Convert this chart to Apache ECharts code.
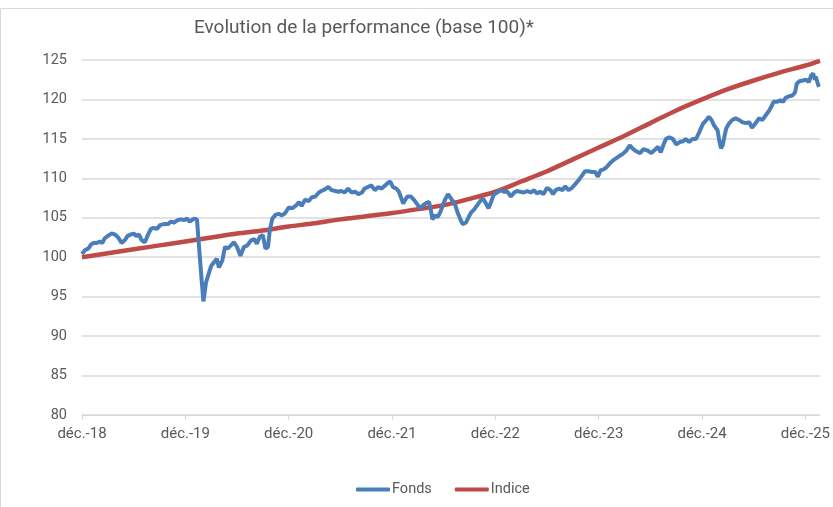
<!DOCTYPE html>
<html>
<head>
<meta charset="utf-8">
<script src="https://cdn.jsdelivr.net/npm/echarts@6/dist/echarts.min.js"></script>
<style>
html, body {margin: 0; padding: 0; background: #fff;}
#chart {width: 833px; height: 507px;}
</style>
</head>
<body>
<div id="chart"></div>
<script>
// months since déc.-18, value (base 100)
var fonds = [
  [0,100.4],[0.35,100.9],[0.73,101.1],[1.04,101.6],[1.3,101.8],[1.7,101.8],[2.08,102.0],[2.35,101.8],
  [2.65,102.4],[3.0,102.7],[3.42,103.0],[3.8,102.9],[4.2,102.5],[4.6,101.8],[5.0,102.2],[5.3,102.7],
  [5.7,102.9],[6.0,103.0],[6.3,102.7],[6.6,102.9],[6.9,102.2],[7.3,101.9],[7.6,102.7],[8.0,103.6],
  [8.3,103.7],[8.7,103.6],[9.1,104.1],[9.6,104.2],[10.0,104.2],[10.3,104.5],[10.7,104.4],[11.1,104.7],
  [11.5,104.8],[11.9,104.7],[12.2,104.9],[12.5,104.5],[12.7,104.7],[13.0,104.9],[13.35,104.8],[13.6,101.2],
  [13.9,97.0],[14.1,94.4],[14.4,96.8],[14.6,96.6],[15.0,98.9],[15.35,99.4],[15.65,99.8],[15.9,98.7],
  [16.3,99.6],[16.6,101.3],[16.9,101.1],[17.3,101.5],[17.65,101.9],[18.0,101.3],[18.4,100.2],[18.8,101.3],
  [19.2,101.5],[19.6,102.1],[20.0,102.3],[20.3,101.7],[20.65,102.6],[21.0,102.8],[21.3,101.1],[21.6,101.3],
  [21.8,103.4],[22.1,104.9],[22.5,105.4],[22.85,105.5],[23.2,105.3],[23.6,105.6],[24.0,106.3],[24.4,106.2],
  [24.8,106.5],[25.2,107.0],[25.5,106.5],[25.9,107.3],[26.3,107.1],[26.7,107.6],[27.1,107.7],[27.5,108.2],
  [27.8,108.4],[28.2,108.6],[28.6,108.9],[29.0,108.5],[29.4,108.4],[29.8,108.3],[30.1,108.4],[30.5,108.2],
  [30.9,108.7],[31.3,108.2],[31.7,108.3],[32.1,108.0],[32.5,108.2],[32.8,108.7],[33.2,108.9],[33.6,109.1],
  [34.0,108.5],[34.4,108.9],[34.8,108.7],[35.2,109.1],[35.5,109.4],[35.8,109.6],[36.1,108.9],[36.5,108.7],
  [36.8,108.3],[37.1,107.4],[37.3,106.8],[37.6,107.4],[37.8,107.7],[38.2,107.7],[38.6,107.2],[39.0,106.6],
  [39.3,106.2],[39.6,106.6],[40.0,106.9],[40.3,107.0],[40.5,106.0],[40.7,104.8],[41.0,105.3],[41.3,105.1],
  [41.6,105.7],[41.9,106.6],[42.2,107.4],[42.5,108.0],[42.7,108.2],[43.0,107.2],[43.35,106.6],[43.6,105.7],
  [43.9,104.9],[44.2,104.2],[44.6,104.4],[44.9,105.1],[45.2,105.7],[45.5,106.0],[45.9,106.6],[46.3,107.2],
  [46.6,107.4],[46.9,106.8],[47.2,106.2],[47.5,107.0],[47.8,107.9],[48.2,108.2],[48.6,108.5],[49.0,108.3],
  [49.4,108.3],[49.8,107.7],[50.2,108.2],[50.5,108.4],[50.9,108.3],[51.3,108.2],[51.7,108.4],[52.1,108.2],
  [52.5,108.5],[52.8,108.1],[53.2,108.3],[53.6,108.0],[54.0,108.8],[54.4,108.5],[54.7,108.0],[55.0,108.5],
  [55.4,108.7],[55.8,108.5],[56.1,109.0],[56.5,108.5],[56.9,108.8],[57.3,109.3],[57.7,109.8],[58.1,110.4],
  [58.4,110.9],[58.8,110.9],[59.2,110.8],[59.6,110.8],[59.9,110.2],[60.2,111.0],[60.5,111.1],[60.9,111.4],
  [61.3,111.9],[61.7,112.3],[62.1,112.6],[62.5,112.9],[62.8,113.1],[63.2,113.5],[63.6,114.2],[64.0,113.7],
  [64.4,113.4],[64.8,113.2],[65.2,113.7],[65.4,113.9],[65.7,113.5],[66.1,113.2],[66.5,113.6],[66.9,114.0],
  [67.2,113.3],[67.5,114.2],[67.8,115.0],[68.2,115.2],[68.6,115.0],[69.0,114.3],[69.4,114.6],[69.8,114.7],
  [70.1,115.0],[70.5,114.6],[70.9,115.0],[71.3,115.0],[71.7,115.9],[72.1,116.9],[72.5,117.4],[72.8,117.8],
  [73.1,117.4],[73.4,116.7],[73.6,116.9],[73.8,116.1],[74.0,114.8],[74.2,113.8],[74.4,114.2],[74.6,115.3],
  [74.8,116.3],[75.1,116.9],[75.5,117.4],[75.9,117.6],[76.3,117.4],[76.7,117.1],[77.1,117.0],[77.5,117.1],
  [77.8,116.4],[78.0,116.2],[78.3,117.1],[78.6,117.6],[79.0,117.4],[79.4,118.0],[79.8,118.6],[80.1,119.2],
  [80.3,119.7],[80.7,119.7],[81.1,119.9],[81.4,119.7],[81.7,120.2],[82.1,120.4],[82.5,120.5],[82.8,120.9],
  [83.0,122.0],[83.3,122.3],[83.7,122.4],[84.1,122.5],[84.4,122.2],[84.65,123.0],[84.9,123.3],[85.1,122.5],
  [85.2,122.9],[85.5,121.8],[85.6,121.6]
];

var indice = [
  [0,100.0],[3,100.5],[6,101.0],[9,101.5],[12,102.0],[15,102.5],[18,103.0],[21,103.4],[24,103.9],
  [27,104.3],[30,104.8],[33,105.2],[36,105.6],[39,106.1],[42,106.6],[45,107.4],[48,108.3],[51,109.6],
  [54,110.9],[57,112.4],[60,113.9],[63,115.4],[66,117.0],[69,118.6],[72,120.0],[75,121.3],[78,122.4],
  [81,123.4],[84,124.3],[85.7,124.9]
];

var tickMonths = [0, 12, 24, 36, 48, 60, 72, 84];
var tickLabels = ['déc.-18', 'déc.-19', 'déc.-20', 'déc.-21', 'déc.-22', 'déc.-23', 'déc.-24', 'déc.-25'];

var font = 'Roboto, "Liberation Sans", sans-serif';
var grey = '#595959';

var myChart = echarts.init(document.getElementById('chart'));
myChart.setOption({
  animation: false,
  textStyle: {fontFamily: font},
  title: {
    text: 'Evolution de la performance (base 100)*',
    left: 189,
    top: 14,
    textStyle: {fontFamily: font, fontSize: 19, fontWeight: 'normal', color: grey}
  },
  graphic: [{
    type: 'rect',
    shape: {x: 0.5, y: 8.5, width: 840, height: 520},
    style: {fill: 'none', stroke: '#d9d9d9', lineWidth: 1},
    silent: true
  }],
  legend: {
    left: 351,
    top: 477,
    icon: 'roundRect',
    itemWidth: 34,
    itemHeight: 4,
    itemGap: 23,
    textStyle: {fontFamily: font, fontSize: 14.5, color: grey, padding: [0, 0, 0, -3]},
    data: ['Fonds', 'Indice']
  },
  grid: {left: 82, right: 8, top: 60, bottom: 92, containLabel: false},
  xAxis: {
    type: 'value',
    min: 0,
    max: 85.7,
    axisLine: {lineStyle: {color: '#d9d9d9', width: 1}},
    axisTick: {show: true, length: 5, lineStyle: {color: '#d9d9d9'}, customValues: tickMonths},
    axisLabel: {
      customValues: tickMonths,
      margin: 12,
      fontFamily: font,
      fontSize: 15,
      color: grey,
      formatter: function (v) {
        var i = tickMonths.indexOf(Math.round(v));
        return i >= 0 ? tickLabels[i] : '';
      }
    },
    splitLine: {show: false}
  },
  yAxis: {
    type: 'value',
    min: 80,
    max: 125,
    interval: 5,
    axisLine: {show: false},
    axisTick: {show: false},
    axisLabel: {margin: 15, fontFamily: font, fontSize: 14.5, color: grey},
    splitLine: {lineStyle: {color: '#d9d9d9', width: 1.5}}
  },
  series: [{
    name: 'Fonds',
    type: 'line',
    data: fonds,
    showSymbol: false,
    lineStyle: {color: '#4a7ebb', width: 4},
    itemStyle: {color: '#4a7ebb'},
    z: 3
  }, {
    name: 'Indice',
    type: 'line',
    data: indice,
    smooth: 0.3,
    showSymbol: false,
    lineStyle: {color: '#be4b48', width: 4.5},
    itemStyle: {color: '#be4b48'},
    z: 2
  }]
});
</script>
</body>
</html>
